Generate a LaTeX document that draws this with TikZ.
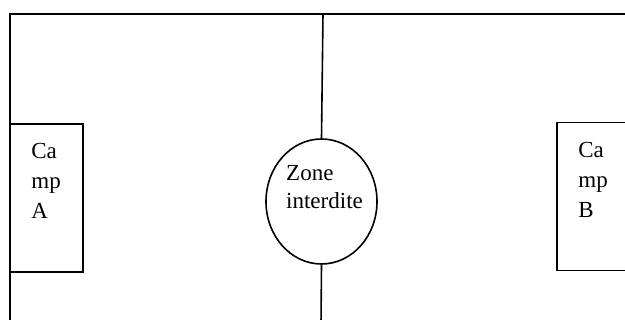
\documentclass[tikz,border=0pt]{standalone}
\usepackage{fontspec}
\setmainfont{Liberation Serif}
\usetikzlibrary{shapes.geometric}
\begin{document}
\begin{tikzpicture}[x=1pt,y=-1pt,
  frame/.style={line width=2.2pt},
  thin line/.style={line width=1.6pt},
  campbox/.style={draw, line width=1.6pt, rectangle, inner sep=0pt, minimum width=73pt, minimum height=148pt},
  zonebox/.style={draw, line width=1.6pt, ellipse, inner sep=0pt, minimum width=111pt, minimum height=125pt},
  lbl/.style={font=\fontsize{23}{30}\selectfont, align=left, inner sep=0pt},
  zlbl/.style={font=\fontsize{23}{28}\selectfont, align=left, inner sep=0pt, anchor=north west}]
\useasboundingbox (0,0) rectangle (625,320);
\fill[white] (0,0) rectangle (625,320);
% outer frame
\coordinate (tr) at (630,14);
\coordinate (tl) at (10,14);
\coordinate (bl) at (10,330);
\draw[frame] (tr) -- (tl) -- (bl);
% camps
\node[campbox, label={[lbl, anchor=north west, xshift=22pt, yshift=-20pt]north west:Ca\\mp\\A}] (campA) at (46.5,198) {};
\node[campbox, label={[lbl, anchor=north west, xshift=22pt, yshift=-20pt]north west:Ca\\mp\\B}] (campB) at (593.5,196.5) {};
% forbidden zone
\node[zonebox] (zone) at (321.5,201.5) {};
\node[zlbl] (zonetext) at (286,165) {Zone\\interdite};
\coordinate (ctop) at (323,14);
\coordinate (cbot) at (321,325);
\draw[thin line] (ctop) -- (zone.north);
\draw[thin line] (zone.south) -- (cbot);
\end{tikzpicture}
\end{document}
